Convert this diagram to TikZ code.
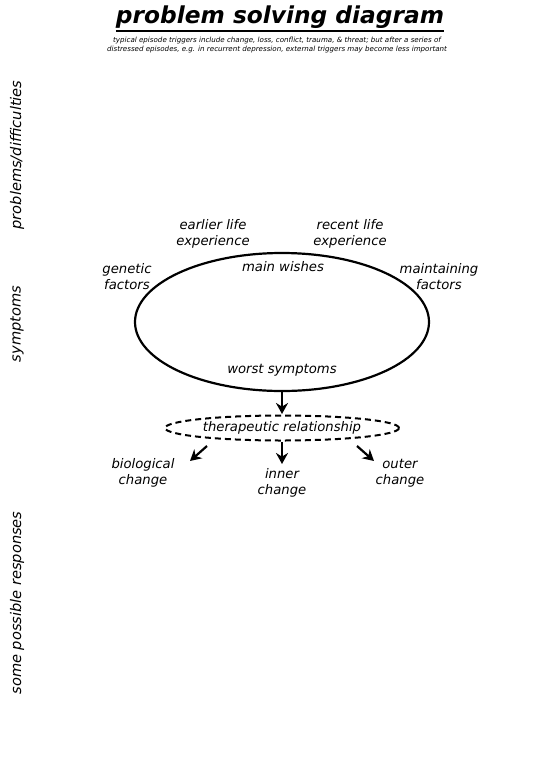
\documentclass[tikz,border=0pt]{standalone}
\usepackage{fontspec}
\setmainfont{DejaVu Sans}
\newfontfamily\titlefont{DejaVu Sans}
\usetikzlibrary{arrows.meta,shapes.geometric}
\tikzset{
  lbl/.style={font=\fontsize{13.2}{16}\selectfont\itshape, align=center, inner sep=0pt},
  side/.style={font=\fontsize{14.6}{16}\selectfont\itshape, rotate=90, inner sep=0pt},
  arr/.style={-{Stealth[length=11pt,width=12pt]}, line width=2.2pt},
}
\begin{document}
\begin{tikzpicture}[x=1pt,y=-1pt]
\useasboundingbox (0,0) rectangle (540,780);
\node[inner sep=0pt] (title) at (280,17) {\titlefont\bfseries\itshape\fontsize{23.3}{25}\selectfont problem solving diagram};
\draw[line width=2pt] ([yshift=-2.5pt]title.south west) -- ([yshift=-2.5pt]title.south east);
\node[inner sep=0pt, align=center, font=\fontsize{7.1}{9}\selectfont\itshape] (sub) at (277,45.5) {typical episode triggers include change, loss, conflict, trauma, \& threat; but after a series of\\distressed episodes, e.g. in recurrent depression, external triggers may become less important};
\node[side] (s1) at (17,155) {problems/difficulties};
\node[side] (s2) at (17,324) {symptoms};
\node[side] (s3) at (17,603) {some possible responses};
\draw[line width=2.2pt] (282,322) ellipse [x radius=147, y radius=69];
\coordinate (ebot) at (282,391);
\node[lbl] (wish) at (283,267) {main wishes};
\node[lbl] (worst) at (282,370) {worst symptoms};
\node[lbl] (early) at (213,234) {earlier life\\experience};
\node[lbl] (recent) at (350,234) {recent life\\experience};
\node[lbl] (gen) at (127,277) {genetic\\factors};
\node[lbl] (maint) at (439,277) {maintaining\\factors};
\node[draw, line width=2pt, dash pattern=on 6pt off 4pt, ellipse, minimum width=234pt, minimum height=25pt, inner sep=0pt] (ther) at (282,428) {};
\node[lbl] (thert) at (282,428) {therapeutic relationship};
\node[lbl] (bio) at (143,473) {biological\\change};
\node[lbl] (inner) at (282,483) {inner\\change};
\node[lbl] (outer) at (400,473) {outer\\change};
\coordinate (tl) at (207,446);
\coordinate (tr) at (357,446);
\coordinate (tc) at (282,442);
\coordinate (bioe) at (190,461);
\coordinate (inne) at (282,464);
\coordinate (oute) at (374,461);
\draw[arr] (ebot) -- (282,414);
\draw[arr] (tl) -- (bioe);
\draw[arr] (tc) -- (inne);
\draw[arr] (tr) -- (oute);
\end{tikzpicture}
\end{document}
